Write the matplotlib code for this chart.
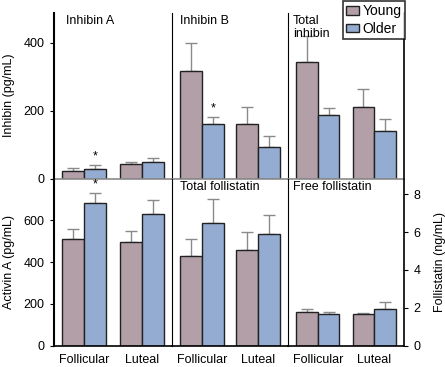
import numpy as np
import matplotlib
matplotlib.use('Agg')
import matplotlib.pyplot as plt
from matplotlib.patches import Patch

plt.rcParams['font.family'] = ['Liberation Sans', 'DejaVu Sans']

phases = ['Follicular', 'Luteal']
groups = ['Young', 'Older']

# inhibin, pg/mL
inhibin_a_young = [23, 42]
inhibin_a_young_err = [8, 6]
inhibin_a_older = [28, 48]
inhibin_a_older_err = [13, 14]

inhibin_b_young = [317, 160]
inhibin_b_young_err = [83, 52]
inhibin_b_older = [160, 93]
inhibin_b_older_err = [21, 32]

total_inhibin_young = [342, 210]
total_inhibin_young_err = [77, 53]
total_inhibin_older = [187, 141]
total_inhibin_older_err = [22, 35]

# activin A, pg/mL
activin_young = [512, 496]
activin_young_err = [47, 55]
activin_older = [683, 631]
activin_older_err = [47, 67]

# follistatin, ng/mL
total_fst_young = [4.73, 5.08]
total_fst_young_err = [0.93, 0.93]
total_fst_older = [6.49, 5.88]
total_fst_older_err = [1.28, 1.0]

free_fst_young = [1.76, 1.66]
free_fst_young_err = [0.18, 0.08]
free_fst_older = [1.66, 1.95]
free_fst_older_err = [0.12, 0.34]

young_color = '#b29fa8'
older_color = '#94acd1'
err_color = '#8a8a8a'

W, H = 445, 367
fig = plt.figure(figsize=(W / 100, H / 100), dpi=100)

xs = [53.5, 172.3, 287.7, 404.3]
y_top, y_mid, y_bot = 12.7, 178.7, 345.7


def make_ax(col, row):
    x0, x1 = xs[col], xs[col + 1]
    if row == 0:
        ya, yb = y_top, y_mid
    else:
        ya, yb = y_mid, y_bot
    return fig.add_axes([x0 / W, 1 - yb / H, (x1 - x0) / W, (yb - ya) / H])


def draw_bars(ax, young, young_err, older, older_err, star=None, star_off=0):
    x = np.arange(len(phases))
    w = 0.385
    for vals, errs, c, off in [(young, young_err, young_color, -w / 2),
                               (older, older_err, older_color, w / 2)]:
        ax.bar(x + off, vals, w, color=c, edgecolor='#222222', linewidth=1.0, zorder=2)
        ax.errorbar(x + off, vals, yerr=[np.zeros(len(errs)), errs], fmt='none',
                    ecolor=err_color, elinewidth=1.0, capsize=4, capthick=1.0, zorder=1)
    if star is not None:
        ax.text(star + w / 2, older[star] + older_err[star] + star_off, '*',
                ha='center', va='bottom', fontsize=9)
    ax.set_xlim(-0.53, 1.53)


fs = 8.5
panels = {}
for row in range(2):
    for col in range(3):
        ax = make_ax(col, row)
        panels[(row, col)] = ax
        ax.spines['top'].set_visible(False)
        ax.spines['right'].set_visible(col == 2)
        ax.spines['right'].set_linewidth(1.2)
        if col == 0:
            ax.spines['left'].set_linewidth(1.5)
        else:
            ax.spines['left'].set_linewidth(0.8)
            ax.tick_params(axis='y', left=False, labelleft=False)
        if row == 0:
            ax.spines['bottom'].set_color('#8a8a8a')
            ax.spines['bottom'].set_linewidth(1.2)
            ax.set_xticks([])
        else:
            ax.spines['bottom'].set_linewidth(1.2)
            ax.set_xticks(range(len(phases)))
            ax.set_xticklabels(phases, fontsize=fs + 0.5)
            ax.tick_params(axis='x', length=0, pad=6)
        ax.tick_params(axis='y', labelsize=fs + 0.5, length=3, width=0.8)
        ax.set_facecolor('none')

ax = panels[(0, 0)]
draw_bars(ax, inhibin_a_young, inhibin_a_young_err, inhibin_a_older, inhibin_a_older_err,
          star=0, star_off=8)
ax = panels[(0, 1)]
draw_bars(ax, inhibin_b_young, inhibin_b_young_err, inhibin_b_older, inhibin_b_older_err,
          star=0, star_off=8)
ax = panels[(0, 2)]
draw_bars(ax, total_inhibin_young, total_inhibin_young_err, total_inhibin_older,
          total_inhibin_older_err)
for col in range(3):
    panels[(0, col)].set_ylim(0, 488)
panels[(0, 0)].set_yticks([0, 200, 400])
panels[(0, 0)].set_ylabel('Inhibin (pg/mL)', fontsize=fs + 0.5, labelpad=6)

ax = panels[(1, 0)]
draw_bars(ax, activin_young, activin_young_err, activin_older, activin_older_err,
          star=0, star_off=12)
ax.set_ylim(0, 800)
ax.set_yticks([0, 200, 400, 600])
ax.set_ylabel('Activin A (pg/mL)', fontsize=fs + 0.5, labelpad=6)

ax = panels[(1, 1)]
draw_bars(ax, total_fst_young, total_fst_young_err, total_fst_older, total_fst_older_err)
ax.set_ylim(0, 8.82)
ax = panels[(1, 2)]
draw_bars(ax, free_fst_young, free_fst_young_err, free_fst_older, free_fst_older_err)
ax.set_ylim(0, 8.82)
ax.set_yticks([0, 2, 4, 6, 8])
ax.tick_params(axis='y', right=True, labelright=True, left=False, labelleft=False,
               labelsize=fs + 0.5, length=3, width=0.8)
ax.yaxis.set_label_position('right')
ax.set_ylabel('Follistatin (ng/mL)', fontsize=fs + 0.5, labelpad=10)

titles = {(0, 0): ('Inhibin A', 12), (0, 1): ('Inhibin B', 8), (0, 2): ('Total\ninhibin', 5),
          (1, 1): ('Total follistatin', 8), (1, 2): ('Free follistatin', 5)}
for key, (t, dx) in titles.items():
    a = panels[key]
    width_px = (xs[key[1] + 1] - xs[key[1]])
    a.text(dx / width_px, 0.985, t, transform=a.transAxes,
           ha='left', va='top', fontsize=fs + 0.5, linespacing=1.05)

handles = [Patch(facecolor=young_color, edgecolor='#222222', label=groups[0]),
           Patch(facecolor=older_color, edgecolor='#222222', label=groups[1])]
leg = fig.legend(handles=handles, loc='upper left', bbox_to_anchor=(343 / W, 1 - 1 / H),
                 fontsize=10, frameon=True, fancybox=False, edgecolor='black',
                 handlelength=0.9, handleheight=0.6, handletextpad=0.25,
                 borderpad=0.25, labelspacing=0.25, borderaxespad=0)
leg.get_frame().set_linewidth(1.2)

fig.savefig('out.png', dpi=100)
